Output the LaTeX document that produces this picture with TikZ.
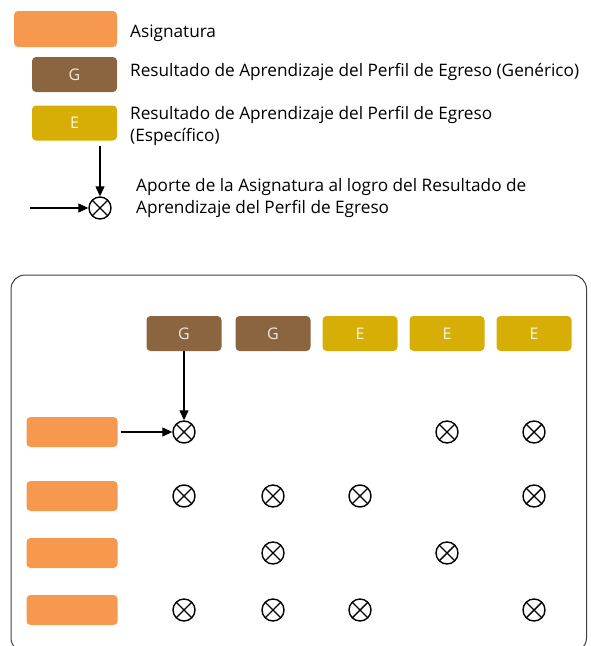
\documentclass[tikz,border=0pt]{standalone}
\usepackage{fontspec}
\setmainfont{Open Sans}
\usetikzlibrary{arrows.meta}

\definecolor{naranja}{HTML}{F7984F}
\definecolor{cafe}{HTML}{8B6540}
\definecolor{mostaza}{HTML}{D6AE06}

\tikzset{
  asig/.style={fill=naranja, rounded corners=4pt, inner sep=0pt},
  gen/.style={fill=cafe, rounded corners=4pt, inner sep=0pt, text=cafe!15,
    minimum width=75pt, minimum height=35pt, font=\fontsize{16}{18}\selectfont},
  esp/.style={gen, fill=mostaza, text=mostaza!10},
  aporte/.style={circle, draw, line width=1.4pt, minimum size=22pt, inner sep=0pt,
    path picture={\draw[line width=1.4pt]
      (path picture bounding box.north west) -- (path picture bounding box.south east)
      (path picture bounding box.north east) -- (path picture bounding box.south west);}},
  flecha/.style={-{Triangle[length=10pt,width=9pt]}, line width=1.3pt},
  txt/.style={anchor=west, inner sep=0pt, align=left,
    font=\fontsize{17.2}{22}\selectfont}
}

\begin{document}
\begin{tikzpicture}[x=1pt,y=-1pt]
  \useasboundingbox (0,0) rectangle (590,646);

  % leyenda
  \node[asig, minimum width=103pt, minimum height=36pt] (asigleg) at (65.5,29) {};
  \node[txt] at (130,33) {Asignatura};
  \node[gen, minimum width=85pt] (genleg) at (74.5,74.5) {G};
  \node[txt] at (130,72) {Resultado de Aprendizaje del Perfil de Egreso (Genérico)};
  \node[esp, minimum width=85pt] (espleg) at (74.5,123) {E};
  \node[txt] at (130,126) {Resultado de Aprendizaje del Perfil de Egreso\\(Específico)};
  \node[aporte] (aporteleg) at (100,208) {};
  \coordinate (libreleg) at (30,208);
  \draw[flecha] (aporteleg |- espleg.south) ++(0,5) -- (aporteleg);
  \draw[flecha] (libreleg) -- (aporteleg);
  \node[txt] at (136,198) {Aporte de la Asignatura al logro del Resultado de\\Aprendizaje del Perfil de Egreso};

  % matriz
  \draw[black!75, line width=1pt, rounded corners=14pt] (11,275) rectangle (586.5,652);

  \foreach \n/\x in {1/184,2/273}
    \node[gen] (rap\n) at (\x,333.5) {G};
  \foreach \n/\x in {3/360,4/447,5/534}
    \node[esp] (rap\n) at (\x,333.5) {E};

  \foreach \r/\y in {1/432,2/496,3/553,4/610}
    \node[asig, minimum width=91pt, minimum height=30pt] (a\r) at (72,\y) {};

  \foreach \r/\c in {1/1,1/4,1/5,2/1,2/2,2/3,2/5,3/2,3/4,4/1,4/2,4/3,4/5}
    \node[aporte] (c\r\c) at (rap\c |- a\r) {};

  \draw[flecha] (rap1) -- (c11);
  \draw[flecha, shorten <=3pt] (a1) -- (c11);
\end{tikzpicture}
\end{document}
